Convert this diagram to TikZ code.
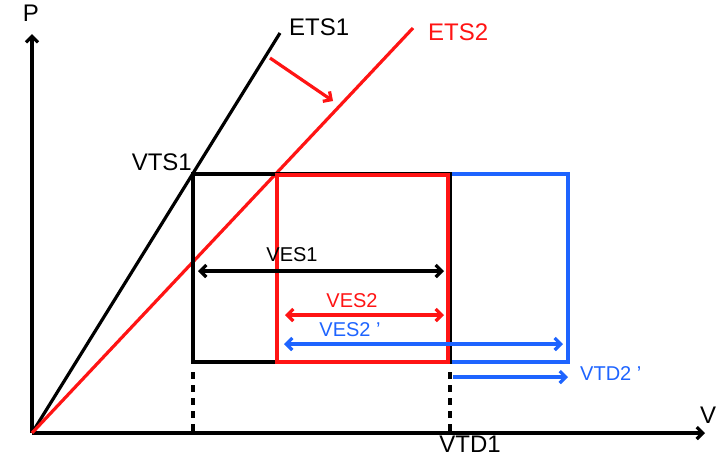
\documentclass[tikz,border=0pt]{standalone}
\usepackage{fontspec}
\setmainfont{Liberation Sans}
\usetikzlibrary{arrows.meta}
\definecolor{myred}{RGB}{255,20,20}
\definecolor{myblue}{RGB}{30,100,255}
\begin{document}
\begin{tikzpicture}[x=1pt,y=-1pt,
  ln/.style={line width=3.2pt},
  arr/.style={ln,-{Straight Barb[length=6pt,width=12pt]}},
  darr/.style={ln,{Straight Barb[length=6pt,width=12pt]}-{Straight Barb[length=6pt,width=12pt]}},
  lbl/.style={font=\fontsize{24}{24}\selectfont,inner sep=0pt},
  slbl/.style={font=\fontsize{20}{20}\selectfont,inner sep=0pt}]
\useasboundingbox (0,0) rectangle (718,456);
% coordinates
\coordinate (O) at (32,433);
\coordinate (Ptop) at (32,34);
\coordinate (Vend) at (705,433);
\coordinate (E1) at (280,33);
\coordinate (E2) at (413,28);
\coordinate (A) at (193,174);
\coordinate (B) at (450,174);
\coordinate (C) at (450,362);
\coordinate (D) at (193,362);
\coordinate (R1) at (277,175);
\coordinate (R2) at (448,175);
\coordinate (R3) at (448,362);
\coordinate (R4) at (277,362);
\coordinate (B2) at (568,174);
\coordinate (B3) at (568,362);
% axes
\draw[arr] (O) -- (Ptop);
\draw[arr] (O) -- (Vend);
\node[lbl] (P) at (31,13) {P};
\node[lbl,anchor=west] (V) at (700,415) {V};
% lines
\draw[ln] (O) -- (E1);
\draw[ln,myred] (O) -- (E2);
\node[lbl,anchor=west] (ets1) at (289,27) {ETS1};
\node[lbl,anchor=west,text=myred] (ets2) at (428,32) {ETS2};
\coordinate (ra) at (270,58);
\coordinate (rb) at (333,101);
\draw[arr,myred] (ra) -- (rb);
% rectangles
\draw[ln,myblue] (B) -- (B2) -- (B3) -- (C);
\draw[ln] (A) -- (B) -- (C) -- (D) -- cycle;
\draw[ln,myred] (R1) -- (R2) -- (R3) -- (R4) -- cycle;
% dashed
\coordinate (d1a) at (193,372);
\coordinate (d1b) at (193,433);
\coordinate (d2a) at (450,372);
\coordinate (d2b) at (450,433);
\draw[ln,dash pattern=on 7pt off 6pt] (d1a) -- (d1b);
\draw[ln,dash pattern=on 7pt off 6pt] (d2a) -- (d2b);
% labels
\node[lbl,anchor=east] (vts1) at (192,162) {VTS1};
\node[slbl] (ves1) at (292,255) {VES1};
\coordinate (v1a) at (198,271);
\coordinate (v1b) at (444,271);
\draw[darr] (v1a) -- (v1b);
\node[slbl,text=myred] (ves2) at (352,301) {VES2};
\coordinate (v2a) at (285,315);
\coordinate (v2b) at (444,315);
\draw[darr,myred] (v2a) -- (v2b);
\node[slbl,text=myblue] (ves2p) at (350,330) {VES2 ’};
\coordinate (v3a) at (284,344);
\coordinate (v3b) at (563,344);
\draw[darr,myblue] (v3a) -- (v3b);
\coordinate (v4a) at (453,377);
\coordinate (v4b) at (568,377);
\draw[arr,myblue] (v4a) -- (v4b);
\node[slbl,anchor=west,text=myblue] (vtd2) at (580,374) {VTD2 ’};
\node[lbl,anchor=base] (vtd1) at (470,452) {VTD1};
\end{tikzpicture}
\end{document}
